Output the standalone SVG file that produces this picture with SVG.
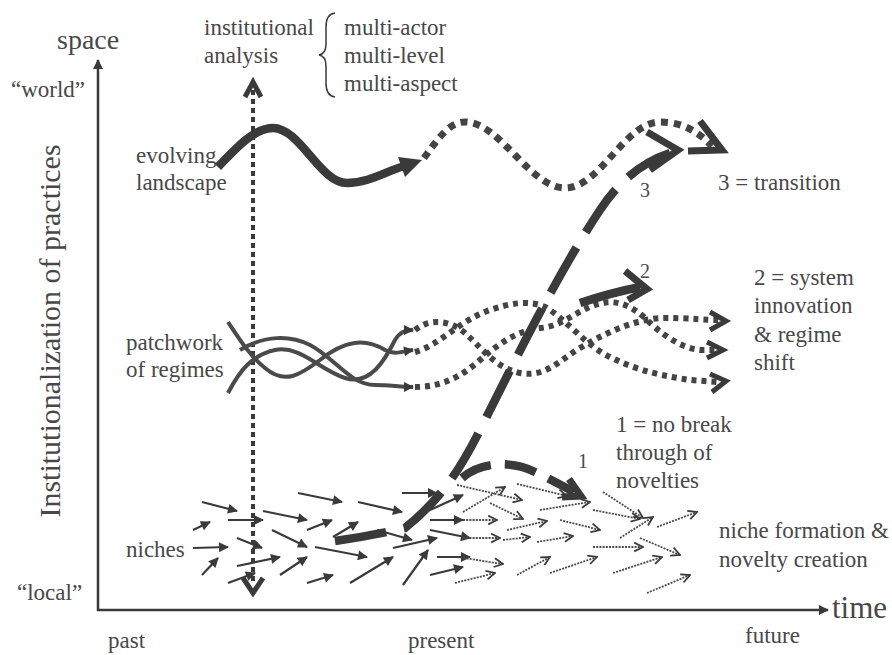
<svg xmlns="http://www.w3.org/2000/svg" width="892" height="655" viewBox="0 0 892 655" font-family="'Liberation Serif', 'Times New Roman', serif">
<defs>
<style>
text{font-family:'Liberation Serif','Times New Roman',serif;fill:#484848;font-size:23px}
.ax{stroke:#3a3a3a;stroke-width:2.5;fill:none}
.thin{stroke:#3a3a3a;stroke-width:2;fill:none}
.reg{stroke:#4a4a4a;stroke-width:4;fill:none;marker-end:url(#tri)}
.thick{stroke:#3a3a3a;stroke-width:8.5;fill:none}
.dot{stroke:#444;stroke-width:6;fill:none;stroke-dasharray:5 5}
.head{stroke:#3a3a3a;stroke-width:7;fill:none;stroke-linejoin:miter}
.ns{stroke:#3a3a3a;stroke-width:2.2;fill:none;marker-end:url(#tri)}
.nd{stroke:#4a4a4a;stroke-width:1.8;fill:none;stroke-dasharray:2 1.2;marker-end:url(#chev)}
</style>
<marker id="tri" viewBox="0 0 10 10" refX="9" refY="5" markerWidth="11" markerHeight="10" markerUnits="userSpaceOnUse" orient="auto"><path d="M0,0 L10,5 L0,10 z" fill="#3a3a3a"/></marker>
<marker id="axh" viewBox="0 0 10 10" refX="9" refY="5" markerWidth="13" markerHeight="10" markerUnits="userSpaceOnUse" orient="auto"><path d="M0,0 L10,5 L0,10 z" fill="#3a3a3a"/></marker>
<marker id="chev" viewBox="0 0 10 10" refX="9" refY="5" markerWidth="11" markerHeight="11" markerUnits="userSpaceOnUse" orient="auto"><path d="M1,1 L9,5 L1,9" fill="none" stroke="#3a3a3a" stroke-width="1.6"/></marker>
</defs>
<rect width="892" height="655" fill="#fff"/>

<g id="axes">
<line class="ax" x1="98" y1="611" x2="98" y2="60" marker-end="url(#axh)"/>
<line class="ax" x1="97" y1="610" x2="828" y2="610" marker-end="url(#axh)"/>
<text x="57" y="49" style="font-size:28px">space</text>
<text x="832" y="618" style="font-size:31px">time</text>
<text x="11" y="97">“world”</text>
<text x="17" y="600">“local”</text>
<text transform="translate(60,331) rotate(-90)" text-anchor="middle" style="font-size:30px">Institutionalization of practices</text>
<text x="108" y="648">past</text>
<text x="408" y="648">present</text>
<text x="745" y="643">future</text>
</g>

<g id="institutional-analysis">
<text x="204" y="35">institutional</text>
<text x="204" y="63">analysis</text>
<path class="thin" style="stroke-width:1.5" d="M335,13 Q326,14 326,27 L326,44 Q326,54 319,55 Q326,56 326,66 L326,83 Q326,96 335,97"/>
<text x="344" y="35">multi-actor</text>
<text x="344" y="63">multi-level</text>
<text x="344" y="91">multi-aspect</text>
<line x1="253" y1="90" x2="253" y2="584" style="stroke:#3a3a3a;stroke-width:4;stroke-dasharray:5 4"/>
<polyline class="head" style="stroke-width:5" points="245,97 253,82 261,97"/>
<polyline class="head" style="stroke-width:5" points="243,578 253,593 263,578"/>
</g>

<g id="landscape">
<text x="136" y="163">evolving</text>
<text x="136" y="190">landscape</text>
<path class="thick" d="M218,167 C238,146 255,128 273,128 C300,128 320,183 347,183 C368,183 385,172 404,166"/>
<polygon points="422,160 398,157 405,177" fill="#3a3a3a"/>
<path class="dot" style="stroke-width:7;stroke-dasharray:7 6" d="M424,158 C440,136 450,122 465,122 C500,122 530,188 565,188 C600,188 625,122 660,122 C685,122 700,134 712,146"/>
<polyline class="head" points="700,121 722,150 688,151"/>
</g>

<g id="regimes">
<text x="126" y="350">patchwork</text>
<text x="126" y="377">of regimes</text>
<path class="reg" d="M228,322 C240,340 250,356 265,368 C285,385 300,375 320,360 C345,340 365,338 385,350 C395,355 400,352 413,350"/>
<path class="reg" d="M228,393 C240,370 252,355 275,350 C300,345 320,370 345,378 C370,386 385,360 395,340 C400,332 405,330 413,330"/>
<path class="reg" d="M240,350 C265,335 290,335 310,345 C335,358 350,385 375,385 C390,385 400,387 413,387"/>
<path class="dot" d="M415,330 C430,318 450,320 465,333 C480,346 495,368 520,373 C545,378 560,360 580,348 C610,330 640,318 665,318 C690,318 705,320 718,320"/>
<path class="dot" d="M415,352 C440,345 460,320 490,310 C510,303 530,300 545,307 C565,318 585,345 610,357 C640,372 665,376 690,380 L718,382"/>
<path class="dot" d="M415,387 C440,387 460,378 480,360 C500,342 520,330 540,328 C560,327 575,312 595,305 C615,298 630,305 645,318 C660,333 680,348 700,350 L716,350"/>
<polyline class="head" style="stroke-width:5" points="710,312 726,321 710,330"/>
<polyline class="head" style="stroke-width:5" points="707,342 723,350 707,358"/>
<polyline class="head" style="stroke-width:5" points="710,374 726,381 712,392"/>
</g>

<g id="niches">
<text x="126" y="557">niches</text>
<text x="719" y="538">niche formation &amp;</text>
<text x="719" y="567">novelty creation</text>
<line class="ns" x1="202" y1="502" x2="237" y2="511"/>
<line class="ns" x1="193" y1="530" x2="210" y2="522"/>
<line class="ns" x1="228" y1="520" x2="263" y2="520"/>
<line class="ns" x1="193" y1="548" x2="228" y2="547"/>
<line class="ns" x1="202" y1="575" x2="218" y2="558"/>
<line class="ns" x1="237" y1="538" x2="262" y2="548"/>
<line class="ns" x1="237" y1="566" x2="280" y2="557"/>
<line class="ns" x1="228" y1="583" x2="255" y2="573"/>
<line class="ns" x1="263" y1="511" x2="307" y2="520"/>
<line class="ns" x1="298" y1="493" x2="342" y2="502"/>
<line class="ns" x1="307" y1="530" x2="332" y2="520"/>
<line class="ns" x1="272" y1="530" x2="307" y2="547"/>
<line class="ns" x1="315" y1="547" x2="367" y2="557"/>
<line class="ns" x1="280" y1="575" x2="307" y2="557"/>
<line class="ns" x1="307" y1="583" x2="333" y2="575"/>
<line class="ns" x1="350" y1="583" x2="393" y2="557"/>
<line class="ns" x1="358" y1="502" x2="402" y2="512"/>
<line class="ns" x1="377" y1="530" x2="412" y2="540"/>
<line class="ns" x1="393" y1="548" x2="437" y2="538"/>
<line class="ns" x1="403" y1="585" x2="428" y2="550"/>
<line class="ns" x1="333" y1="537" x2="358" y2="522"/>
<line class="ns" x1="402" y1="493" x2="437" y2="493"/>
<line class="ns" x1="430" y1="510" x2="463" y2="495"/>
<line class="ns" x1="430" y1="520" x2="463" y2="520"/>
<line class="ns" x1="430" y1="530" x2="470" y2="538"/>
<line class="ns" x1="437" y1="557" x2="470" y2="557"/>
<line class="ns" x1="430" y1="575" x2="463" y2="567"/>
<line class="nd" x1="457" y1="485" x2="522" y2="500"/>
<line class="nd" x1="463" y1="512" x2="505" y2="487"/>
<line class="nd" x1="463" y1="520" x2="497" y2="520"/>
<line class="nd" x1="490" y1="503" x2="523" y2="519"/>
<line class="nd" x1="517" y1="484" x2="567" y2="496"/>
<line class="nd" x1="540" y1="510" x2="590" y2="502"/>
<line class="nd" x1="507" y1="530" x2="547" y2="521"/>
<line class="nd" x1="560" y1="520" x2="600" y2="530"/>
<line class="nd" x1="593" y1="510" x2="640" y2="519"/>
<line class="nd" x1="603" y1="492" x2="643" y2="518"/>
<line class="nd" x1="620" y1="538" x2="653" y2="517"/>
<line class="nd" x1="657" y1="527" x2="697" y2="512"/>
<line class="nd" x1="463" y1="538" x2="500" y2="538"/>
<line class="nd" x1="503" y1="540" x2="530" y2="537"/>
<line class="nd" x1="537" y1="542" x2="573" y2="536"/>
<line class="nd" x1="593" y1="547" x2="643" y2="547"/>
<line class="nd" x1="640" y1="538" x2="680" y2="555"/>
<line class="nd" x1="457" y1="557" x2="503" y2="564"/>
<line class="nd" x1="517" y1="575" x2="550" y2="557"/>
<line class="nd" x1="550" y1="573" x2="597" y2="557"/>
<line class="nd" x1="613" y1="573" x2="662" y2="557"/>
<line class="nd" x1="455" y1="583" x2="495" y2="573"/>
<line class="nd" x1="647" y1="593" x2="690" y2="575"/>
</g>

<g id="pathways">
<path class="thick" style="stroke-dasharray:52 18" d="M335,541 Q370,536 405,528 C440,500 460,470 480,430 C520,350 560,270 600,210 C618,183 640,163 670,153"/>
<polyline class="head" points="647,132 678,150 650,170"/>
<text x="640" y="197" style="font-size:20px">3</text>
<text x="718" y="190">3 = transition</text>
<path class="thick" d="M580,303 Q610,293 640,287"/>
<polyline class="head" points="625,271 647,289 628,300"/>
<text x="640" y="278" style="font-size:20px">2</text>
<text x="754" y="285">2 = system</text>
<text x="754" y="313">innovation</text>
<text x="754" y="342">&amp; regime</text>
<text x="754" y="370">shift</text>
<path class="thick" style="stroke-dasharray:32 14" d="M462,478 C480,462 510,460 535,472 C552,480 563,486 574,492"/>
<polyline class="head" points="569,479 581,496 562,497"/>
<text x="578" y="468" style="font-size:20px">1</text>
<text x="616" y="432">1 = no break</text>
<text x="616" y="460">through of</text>
<text x="616" y="488">novelties</text>
</g>
</svg>
